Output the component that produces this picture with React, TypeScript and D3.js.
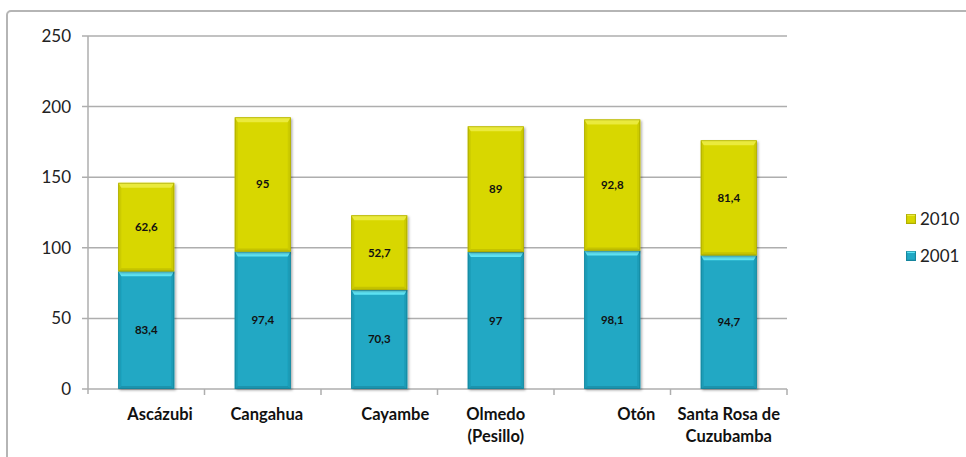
import React from "react";
import * as d3 from "d3";

const categories = [
  ["       Ascázubi"],
  ["  Cangahua"],
  ["        Cayambe"],
  ["Olmedo", "(Pesillo)"],
  ["            Otón"],
  ["Santa Rosa de", "Cuzubamba"],
];
const categoryKeys = ["Ascázubi", "Cangahua", "Cayambe", "Olmedo (Pesillo)", "Otón", "Santa Rosa de Cuzubamba"];
const values2001 = [83.4, 97.4, 70.3, 97, 98.1, 94.7];
const values2010 = [62.6, 95, 52.7, 89, 92.8, 81.4];
const labels2001 = ["83,4", "97,4", "70,3", "97", "98,1", "94,7"];
const labels2010 = ["62,6", "95", "52,7", "89", "92,8", "81,4"];
const yTicks = [0, 50, 100, 150, 200, 250];
const seriesNames = ["2010", "2001"];

const W = 966;
const H = 457;
const plot = { left: 88, right: 787, top: 36, bottom: 389 };

const palette = {
  "2001": { main: "#20a8c4", top: "#5ee4f4", side: "#1c9cb7", bottom: "#1a93ad", edge: "#137a90" },
  "2010": { main: "#d8d700", top: "#eaea3c", side: "#cccb00", bottom: "#c4c300", edge: "#9c9b00" },
};

function BevelRect({ x, y, w, h, c, tb = 5, sb = 3 }: any) {
  const t = Math.min(tb, h / 2);
  const s = Math.min(sb, w / 2, h / 2);
  return (
    <g>
      <rect x={x} y={y} width={w} height={h} fill={c.main} />
      <polygon points={`${x},${y} ${x + s},${y + t} ${x + s},${y + h - s} ${x},${y + h}`} fill={c.side} />
      <polygon points={`${x + w},${y} ${x + w - s},${y + t} ${x + w - s},${y + h - s} ${x + w},${y + h}`} fill={c.side} />
      <polygon points={`${x},${y + h} ${x + s},${y + h - s} ${x + w - s},${y + h - s} ${x + w},${y + h}`} fill={c.bottom} />
      <polygon points={`${x},${y} ${x + w},${y} ${x + w - s},${y + t} ${x + s},${y + t}`} fill={c.top} />
      <rect x={x + 0.4} y={y + 0.4} width={w - 0.8} height={h - 0.8} fill="none" stroke={c.edge} strokeWidth={0.8} strokeOpacity={0.7} />
    </g>
  );
}

export default function App() {
  const x = d3.scaleBand<string>().domain(categoryKeys).range([plot.left, plot.right]).paddingInner(0.52).paddingOuter(0.26);
  const band = d3.scaleBand<string>().domain(categoryKeys).range([plot.left, plot.right]);
  const y = d3.scaleLinear().domain([0, 250]).range([plot.bottom, plot.top]);
  const stack = d3.stack<any>().keys(["2001", "2010"])(
    categoryKeys.map((k, i) => ({ key: k, "2001": values2001[i], "2010": values2010[i] }))
  );
  const labelSets: any = { "2001": labels2001, "2010": labels2010 };
  const font = "Lato, Calibri, 'Noto Sans', sans-serif";

  return (
    <svg width={W} height={H} style={{ position: "absolute", left: 0, top: 0, display: "block", background: "#fff" }}>
      <defs>
        <filter id="sh" x="-20%" y="-20%" width="140%" height="140%">
          <feDropShadow dx="1.5" dy="1.5" stdDeviation="1.2" floodColor="#000" floodOpacity="0.3" />
        </filter>
      </defs>
      <rect x={7} y={11} width={W + 20} height={H + 20} rx={4} fill="#fff" stroke="#b5b5b5" strokeWidth={2} />
      {yTicks.map((t) => (
        <g key={t}>
          <line x1={plot.left - 6} x2={plot.right} y1={y(t)} y2={y(t)} stroke="#aeaeae" strokeWidth={1.5} />
          <text x={71} y={y(t)} dy="0.35em" textAnchor="end" fontFamily={font} fontSize={17} fill="#222">
            {t}
          </text>
        </g>
      ))}
      <line x1={plot.left} x2={plot.left} y1={plot.top} y2={plot.bottom + 5} stroke="#aeaeae" strokeWidth={1.5} />
      {categoryKeys.map((k) => (
        <line key={k} x1={band(k)! + band.bandwidth()} x2={band(k)! + band.bandwidth()} y1={plot.bottom} y2={plot.bottom + 6} stroke="#aeaeae" strokeWidth={1.5} />
      ))}
      {stack.map((s) => (
        <g key={s.key}>
          {s.map((d, i) => (
            <g key={i} filter="url(#sh)">
              <BevelRect
                x={x(categoryKeys[i])!}
                y={y(d[1])}
                w={x.bandwidth()}
                h={y(d[0]) - y(d[1])}
                c={(palette as any)[s.key]}
              />
            </g>
          ))}
        </g>
      ))}
      {stack.map((s) => (
        <g key={"l" + s.key}>
          {s.map((d, i) => (
            <text
              key={i}
              x={x(categoryKeys[i])! + x.bandwidth() / 2}
              y={(y(d[0]) + y(d[1])) / 2}
              dy="0.35em"
              textAnchor="middle"
              fontFamily={font}
              fontWeight={700}
              fontSize={11.5}
              fill="#111"
            >
              {labelSets[s.key][i]}
            </text>
          ))}
        </g>
      ))}
      {categories.map((lines, i) => (
        <text
          key={i}
          x={band(categoryKeys[i])! + band.bandwidth() / 2}
          y={420}
          textAnchor="middle"
          fontFamily={font}
          fontWeight={700}
          fontSize={16.5}
          fill="#111"
          style={{ whiteSpace: "pre" }}
        >
          {lines.map((l, j) => (
            <tspan key={j} x={band(categoryKeys[i])! + band.bandwidth() / 2} dy={j === 0 ? 0 : 22}>
              {l}
            </tspan>
          ))}
        </text>
      ))}
      {seriesNames.map((n, i) => (
        <g key={n} transform={`translate(906, ${214 + i * 37})`}>
          <BevelRect x={0} y={0} w={10} h={10} c={(palette as any)[n]} tb={2} sb={1.5} />
          <text x={14} y={5} dy="0.35em" fontFamily={font} fontSize={17} fill="#222">
            {n}
          </text>
        </g>
      ))}
    </svg>
  );
}
